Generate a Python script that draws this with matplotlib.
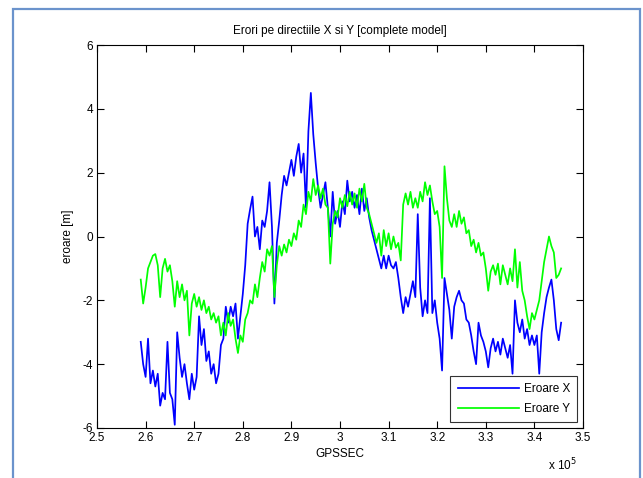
import numpy as np
import matplotlib
matplotlib.use("Agg")
import matplotlib.pyplot as plt
from matplotlib.ticker import FuncFormatter, MultipleLocator
from matplotlib.patches import Rectangle

plt.rcParams['font.family'] = ['Liberation Sans', 'DejaVu Sans']

# GPS seconds of the samples (every 500 s)
t_start = 259000
t_step = 500

# Position error along X [m]
err_x = [
    -3.3, -4.0, -4.4, -3.2, -4.6, -4.2, -4.7, -4.3, -5.3, -4.9,
    -5.1, -3.3, -4.9, -5.1, -5.9, -3.0, -3.8, -4.4, -4.0, -4.6,
    -5.1, -4.3, -4.8, -4.4, -2.5, -3.4, -2.9, -3.9, -3.6, -4.3,
    -4.0, -4.6, -4.3, -3.4, -3.2, -2.2, -2.7, -2.2, -2.5, -2.1,
    -3.2, -2.5, -1.8, -0.9, 0.4, 0.85, 1.25, 0.0, 0.3, -0.4,
    0.5, 0.3, 0.8, 1.7, 0.3, -2.1, -0.2, 0.5, 1.3, 1.9,
    1.6, 2.0, 2.4, 1.9, 2.5, 2.9, 2.0, 2.6, 0.9, 3.3,
    4.5, 3.2, 2.3, 1.5, 0.9, 1.3, 1.7, 0.9, 0.0, 1.4,
    0.4, 0.8, 0.3, 1.1, 0.7, 1.75, 1.1, 1.4, 0.9, 1.3,
    0.7, 1.5, 0.8, 1.2, 0.6, 0.2, -0.1, -0.4, -0.7, -1.0,
    -0.6, -1.0, -0.6, -0.9, -1.0, -0.8, -1.3, -1.9, -2.4, -1.9,
    -2.2, -1.8, -1.4, -1.9, 0.7, -1.6, -2.5, -2.0, -2.4, 1.2,
    -2.4, -2.0, -2.7, -3.2, -4.2, -1.3, -1.8, -2.3, -3.2, -2.2,
    -1.9, -1.7, -2.0, -2.1, -2.6, -2.7, -3.1, -3.6, -4.0, -2.7,
    -3.1, -3.3, -3.6, -4.1, -3.5, -3.2, -3.6, -3.3, -3.7, -3.2,
    -3.5, -3.8, -3.4, -4.3, -2.0, -2.7, -3.0, -2.6, -3.2, -2.9,
    -3.4, -3.1, -3.4, -3.1, -4.3, -3.0, -2.4, -1.9, -1.6, -1.35,
    -2.0, -2.9, -3.25, -2.7,
]

# Position error along Y [m]
err_y = [
    -1.35, -2.1, -1.6, -1.0, -0.8, -0.6, -0.55, -0.9, -1.9, -1.0,
    -0.7, -1.1, -0.9, -1.4, -2.2, -1.4, -1.9, -1.5, -2.0, -1.7,
    -3.1, -2.1, -1.8, -2.2, -1.9, -2.3, -2.0, -2.4, -2.2, -2.6,
    -2.4, -2.7, -2.5, -3.1, -2.7, -3.1, -2.4, -2.8, -2.6, -3.2,
    -3.65, -3.1, -3.3, -2.6, -2.4, -2.0, -2.1, -1.5, -1.9, -1.3,
    -0.8, -1.1, -0.4, -0.6, -0.3, -1.9, -0.9, -0.3, -0.6, -0.25,
    -0.5, -0.1, -0.3, 0.1, -0.1, 0.5, 0.3, 1.0, 0.7, 1.4,
    1.1, 1.8, 1.3, 1.6, 1.2, 1.5, 1.0, 0.9, -0.85, 0.4,
    0.8, 0.6, 1.2, 0.9, 1.3, 0.95, 1.4, 1.0, 1.35, 0.9,
    1.5, 1.1, 1.65, 0.9, 0.7, 0.4, 0.1, -0.2, 0.1, -0.6,
    0.2, -0.3, 0.1, -0.4, 0.0, -0.35, -0.2, -0.75, 1.0, 1.35,
    1.0, 1.4, 0.9, 1.2, 0.9, 1.4, 1.1, 1.7, 1.3, 1.6,
    1.1, 0.7, 0.8, 0.3, -1.3, 2.2, 1.2, 0.5, 0.3, 0.7,
    0.3, 0.8, 0.4, 0.6, 0.1, 0.2, -0.3, -0.1, -0.5, -0.2,
    -0.6, -0.5, -1.0, -1.7, -1.1, -0.9, -1.2, -0.85, -1.5, -0.9,
    -1.2, -1.5, -1.0, -1.4, -0.4, -1.6, -0.8, -1.7, -2.0, -2.5,
    -2.9, -2.4, -2.6, -2.3, -2.0, -1.4, -0.8, -0.4, 0.0, -0.3,
    -0.5, -1.3, -1.2, -1.0,
]

gpssec = t_start + t_step * np.arange(len(err_x))

fig = plt.figure(figsize=(6.43, 4.78), dpi=100)
fig.patch.set_facecolor('white')

# window frame around the figure
fig.patches.append(Rectangle((13 / 643, -0.05), 627 / 643, 1.05 - 9 / 478,
                             transform=fig.transFigure, fill=False,
                             edgecolor='#6b93cc', linewidth=1.6, zorder=10))

ax = fig.add_axes([97 / 643, 1 - 428 / 478, 486 / 643, 383 / 478])

ax.plot(gpssec, err_x, color='#0000ff', linewidth=1.25, label='Eroare X')
ax.plot(gpssec, err_y, color='#00ff00', linewidth=1.25, label='Eroare Y')

ax.set_xlim(2.5e5, 3.5e5)
ax.set_ylim(-6, 6)
ax.xaxis.set_major_locator(MultipleLocator(1e4))
ax.yaxis.set_major_locator(MultipleLocator(2))
ax.xaxis.set_major_formatter(FuncFormatter(lambda v, p: f"{v / 1e5:g}"))
ax.yaxis.set_major_formatter(FuncFormatter(lambda v, p: f"{v:g}"))

ax.tick_params(direction='in', length=5, width=0.8, top=True, right=True,
               labelsize=8.5, pad=3, colors='black')
for s in ax.spines.values():
    s.set_linewidth(0.8)

ax.set_title('Erori pe directiile X si Y [complete model]', fontsize=8.5, pad=8)
ax.set_xlabel('GPSSEC', fontsize=8.5, labelpad=3)
ax.set_ylabel('eroare [m]', fontsize=8.5, labelpad=6)

fig.text(548 / 643, 1 - 470 / 478, r'x 10$^{5}$', fontsize=8.5,
         ha='left', va='baseline')

leg = ax.legend(loc='lower right', fontsize=8.5, frameon=True, fancybox=False,
                borderaxespad=0.5, handlelength=5.2, handletextpad=0.4,
                borderpad=0.6, labelspacing=0.65)
leg.get_frame().set_edgecolor('black')
leg.get_frame().set_linewidth(0.8)

fig.savefig('out.png', dpi=100)
